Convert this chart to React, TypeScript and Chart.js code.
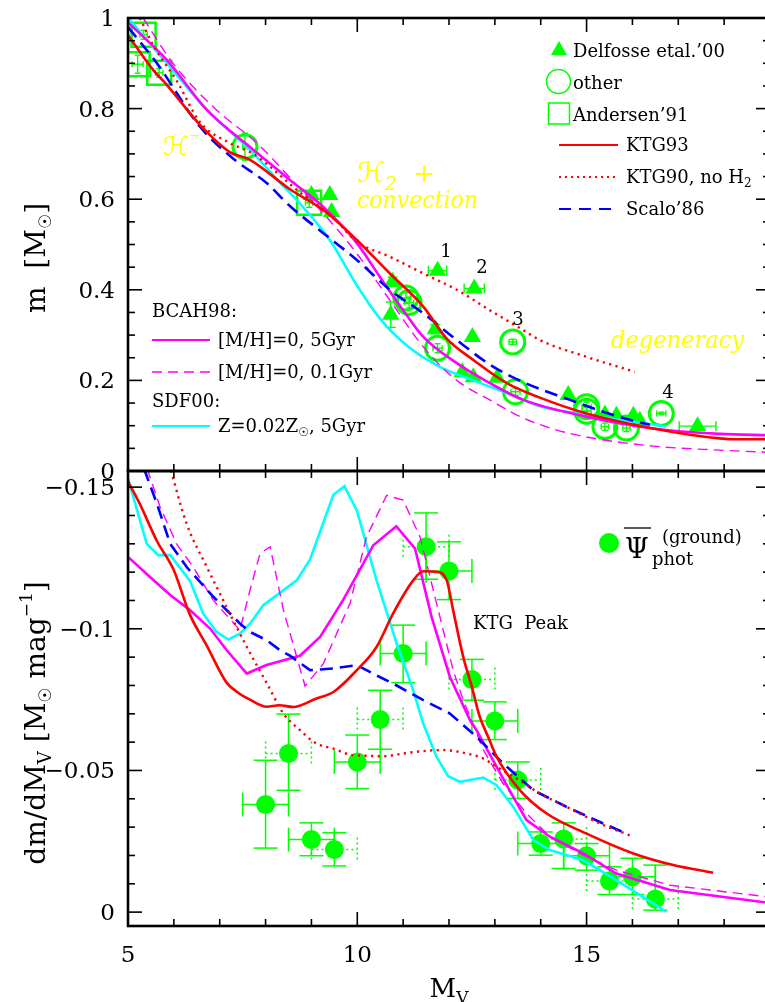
import { useEffect, useRef } from "react";
import { Chart, registerables } from "chart.js";

Chart.register(...registerables);

type Pt = [number, number];

const SERIF = '"DejaVu Serif", "DejaVu Sans", "Liberation Serif", serif';
const GREEN = "#00ff00";
const RED = "#ff0000";
const BLUE = "#0000ff";
const MAGENTA = "#ff00ff";
const CYAN = "#00ffff";
const YELLOW = "#ffff00";

// shared abscissa: absolute visual magnitude
const MV_RANGE: Pt = [5, 19];
const MV_TICKS = [5, 10, 15];
const MV_TICK_LABELS = ["5", "10", "15"];

// upper panel: stellar mass (solar units)
const MASS_RANGE: Pt = [0, 1];
const MASS_TICKS = [0, 0.2, 0.4, 0.6, 0.8, 1];
const MASS_TICK_LABELS = ["0", "0.2", "0.4", "0.6", "0.8", "1"];

// lower panel: dm/dMv (negative values run upwards)
const SLOPE_RANGE: Pt = [-0.1557, 0.0049];
const SLOPE_TICKS = [-0.15, -0.1, -0.05, 0];
const SLOPE_TICK_LABELS = ["\u22120.15", "\u22120.1", "\u22120.05", "0"];

// ---------- mass-luminosity relations ----------
const KTG93_MASS: Pt[] = [
  [5.0, 0.962], [5.55, 0.885], [5.85, 0.852], [6.57, 0.764], [7.22, 0.704], [7.66, 0.687],
  [8.53, 0.622], [9.26, 0.576], [9.99, 0.51], [10.71, 0.436], [11.44, 0.363], [11.95, 0.292],
  [12.53, 0.245], [13.26, 0.194], [13.98, 0.162], [15.0, 0.127], [16.45, 0.094], [17.9, 0.072],
  [18.3, 0.07], [19.0, 0.07],
];
const KTG90_MASS: Pt[] = [
  [5.26, 1.0], [5.55, 0.94], [6.07, 0.86], [6.57, 0.77], [7.2, 0.725], [7.73, 0.7], [8.75, 0.615],
  [9.47, 0.56], [9.99, 0.506], [10.71, 0.473], [11.44, 0.436], [12.17, 0.4], [12.89, 0.355],
  [13.62, 0.311], [13.98, 0.289], [15.0, 0.252], [16.05, 0.219],
];
const SCALO86_MASS: Pt[] = [
  [5.0, 0.98], [5.63, 0.9], [6.57, 0.76], [7.29, 0.69], [8.03, 0.635], [8.53, 0.585], [9.26, 0.525],
  [9.99, 0.466], [10.71, 0.4], [11.44, 0.348], [12.17, 0.289], [12.89, 0.235], [13.62, 0.196],
  [14.64, 0.157], [15.36, 0.131], [16.09, 0.109], [16.38, 0.102],
];
const BCAH98_5GYR_MASS: Pt[] = [
  [5.0, 0.99], [5.85, 0.907], [6.72, 0.797], [7.66, 0.715], [8.6, 0.637], [9.26, 0.583],
  [9.99, 0.503], [10.49, 0.429], [11.0, 0.355], [11.44, 0.296], [12.17, 0.238], [12.89, 0.194],
  [13.62, 0.157], [15.0, 0.12], [16.45, 0.094], [17.9, 0.082], [19.0, 0.079],
];
const BCAH98_01GYR_MASS: Pt[] = [
  [5.33, 1.0], [5.98, 0.9], [6.93, 0.797], [7.81, 0.724], [8.6, 0.64], [9.26, 0.569], [9.99, 0.48],
  [10.71, 0.377], [11.44, 0.274], [12.17, 0.2], [12.89, 0.157], [13.55, 0.12], [14.3, 0.092],
  [15.0, 0.075], [16.45, 0.055], [17.9, 0.046], [19.0, 0.041],
];
const SDF00_MASS: Pt[] = [
  [5.0, 1.0], [5.85, 0.9], [6.72, 0.797], [7.66, 0.709], [8.24, 0.645], [8.75, 0.59], [9.4, 0.51],
  [9.99, 0.41], [10.49, 0.337], [11.08, 0.277], [11.8, 0.23], [12.53, 0.2], [13.26, 0.172],
  [13.98, 0.143], [15.0, 0.124], [15.73, 0.113], [16.74, 0.098],
];

// binary-star masses
const DELFOSSE_MV = [9.0, 9.4, 9.44, 10.77, 10.73, 11.75, 12.55, 11.7, 12.51, 12.29, 12.53, 13.05, 14.6, 15.4, 15.65, 16.02, 16.16, 17.42];
const DELFOSSE_MASS = [0.609, 0.609, 0.572, 0.418, 0.345, 0.442, 0.403, 0.313, 0.296, 0.218, 0.207, 0.206, 0.168, 0.125, 0.122, 0.122, 0.111, 0.099];
const DELFOSSE_MV_ERR = [0, 0, 0, 0, 0, 0.2, 0.22, 0, 0, 0, 0, 0, 0, 0, 0, 0, 0, 0.4];
const DELFOSSE_MASS_ERR = [0, 0, 0, 0.01, 0.028, 0, 0, 0.01, 0, 0, 0, 0, 0, 0, 0, 0, 0, 0];

const OTHER_MV = [7.55, 11.06, 11.13, 11.75, 13.39, 13.45, 15.0, 15.0, 15.4, 15.87, 16.63];
const OTHER_MASS = [0.716, 0.382, 0.372, 0.271, 0.285, 0.175, 0.142, 0.132, 0.098, 0.095, 0.127];
const OTHER_MV_ERR = [0.05, 0.1, 0.1, 0.1, 0.08, 0.1, 0.1, 0.1, 0.08, 0.08, 0.1];
const OTHER_MASS_ERR = [0.03, 0.012, 0.012, 0.01, 0.006, 0.008, 0.01, 0.008, 0.008, 0.008, 0.003];

const ANDERSEN_MV = [5.34, 5.21, 5.68, 8.95];
const ANDERSEN_MASS = [0.963, 0.898, 0.879, 0.592];
const ANDERSEN_MV_ERR = [0.08, 0.12, 0.08, 0.08];
const ANDERSEN_MASS_ERR = [0.01, 0.02, 0.01, 0.01];

// ---------- derivatives dm/dMv ----------
const KTG93_SLOPE: Pt[] = [
  [5.0, -0.152], [5.26, -0.144], [5.63, -0.131], [5.99, -0.121], [6.35, -0.105], [6.72, -0.094],
  [7.15, -0.081], [7.44, -0.077], [7.66, -0.075], [8.02, -0.0725], [8.3, -0.073], [8.6, -0.0724],
  [9.11, -0.0754], [9.48, -0.0777], [9.99, -0.0854], [10.42, -0.0936], [10.78, -0.1054],
  [11.22, -0.1171], [11.44, -0.1203], [11.73, -0.1201], [11.95, -0.1171], [12.09, -0.1066],
  [12.31, -0.0901], [12.49, -0.08], [12.67, -0.069], [12.85, -0.062], [13.04, -0.0548],
  [13.55, -0.043], [14.13, -0.0348], [15.0, -0.0277], [16.02, -0.0207], [16.89, -0.0166], [17.76, -0.0139],
];
const KTG90_SLOPE: Pt[] = [
  [5.9, -0.158], [6.28, -0.137], [6.72, -0.1218], [7.15, -0.1077], [7.59, -0.0936], [8.02, -0.081],
  [8.39, -0.0701], [8.75, -0.0642], [9.11, -0.0595], [9.48, -0.0577], [9.84, -0.0556], [10.2, -0.0552],
  [10.57, -0.055], [10.93, -0.0558], [11.29, -0.0566], [11.87, -0.0572], [12.38, -0.056],
  [12.75, -0.0542], [13.04, -0.0513], [13.47, -0.0472], [13.98, -0.0419], [14.56, -0.0372],
  [15.29, -0.0313], [16.02, -0.0266],
];
const SCALO86_SLOPE: Pt[] = [
  [5.35, -0.1565], [5.63, -0.1442], [5.92, -0.13], [6.28, -0.1218], [6.86, -0.1113], [7.44, -0.1019],
  [7.66, -0.0989], [8.02, -0.096], [8.31, -0.0925], [8.53, -0.0905], [8.97, -0.0854], [9.48, -0.086],
  [9.99, -0.0872], [10.49, -0.083], [10.78, -0.0807], [11.44, -0.0748], [12.02, -0.0701],
  [12.6, -0.0619], [13.18, -0.0525], [13.84, -0.043], [14.56, -0.0372], [15.29, -0.0318], [15.87, -0.0277],
];
const BCAH98_5GYR_SLOPE: Pt[] = [
  [5.0, -0.1254], [5.48, -0.1183], [5.92, -0.1119], [6.35, -0.1066], [6.79, -0.1001], [7.15, -0.0925],
  [7.59, -0.0842], [8.02, -0.0872], [8.75, -0.0905], [9.19, -0.0971], [9.69, -0.1101], [10.35, -0.1295],
  [10.85, -0.1362], [11.26, -0.1283], [11.62, -0.1042], [12.02, -0.083], [12.46, -0.0677],
  [12.6, -0.0642], [13.04, -0.0513], [13.4, -0.0407], [13.69, -0.0325], [14.2, -0.0266],
  [14.93, -0.0207], [15.65, -0.0136], [16.82, -0.0078], [19.0, -0.0032],
];
const BCAH98_01GYR_SLOPE: Pt[] = [
  [5.42, -0.1565], [5.7, -0.143], [6.06, -0.13], [6.42, -0.1218], [6.86, -0.1101], [7.44, -0.0995],
  [7.66, -0.1136], [7.88, -0.1266], [8.1, -0.1289], [8.39, -0.1066], [8.86, -0.0798], [9.26, -0.0877],
  [9.84, -0.1089], [10.2, -0.1324], [10.64, -0.1471], [11.0, -0.1454], [11.37, -0.1324],
  [11.73, -0.1089], [12.09, -0.0854], [12.31, -0.0748], [12.46, -0.069], [12.75, -0.0572],
  [13.18, -0.0454], [13.69, -0.0348], [14.2, -0.0266], [14.93, -0.0201], [15.65, -0.0148],
  [16.82, -0.0095], [19.0, -0.0053],
];
const SDF00_SLOPE: Pt[] = [
  [5.0, -0.153], [5.41, -0.13], [5.66, -0.126], [5.92, -0.126], [6.35, -0.117], [6.64, -0.1054],
  [6.93, -0.0989], [7.19, -0.0962], [7.44, -0.0983], [7.66, -0.1018], [7.95, -0.1083], [8.68, -0.1171],
  [8.97, -0.1245], [9.48, -0.1473], [9.72, -0.1503], [9.99, -0.1418], [10.42, -0.1171],
  [10.86, -0.0948], [11.22, -0.0783], [11.44, -0.0665], [11.73, -0.0548], [11.98, -0.048],
  [12.24, -0.046], [12.75, -0.0475], [13.04, -0.0448], [13.4, -0.0372], [13.84, -0.0254],
  [14.2, -0.0219], [14.93, -0.0183], [15.65, -0.0113], [16.74, -0.0001],
];

// photometric luminosity-function derivative with 1-sigma ranges
const PSI_MV = [8.0, 8.5, 9.0, 9.5, 10.0, 10.5, 11.0, 11.5, 12.0, 12.5, 13.0, 13.5, 14.0, 14.5, 15.0, 15.5, 16.0, 16.5];
const PSI_SLOPE = [-0.038, -0.056, -0.0256, -0.0221, -0.053, -0.068, -0.0913, -0.129, -0.1204, -0.0821, -0.0675, -0.0466, -0.0242, -0.0258, -0.0199, -0.011, -0.0125, -0.0046];
const PSI_UPPER = [-0.0536, -0.0699, -0.0315, -0.028, -0.0625, -0.0783, -0.1013, -0.1409, -0.1307, -0.0892, -0.0742, -0.053, -0.0283, -0.0315, -0.0242, -0.016, -0.019, -0.0166];
const PSI_LOWER = [-0.0226, -0.043, -0.0199, -0.0163, -0.0436, -0.0575, -0.081, -0.1175, -0.1103, -0.0748, -0.0609, -0.0401, -0.0201, -0.0154, -0.0148, -0.0062, -0.0062, -0.0007];
const PSI_BIN_HALF = 0.5;

// ---------- drawing helpers ----------
type Run = { t: string; size: number; dy?: number; style?: string };

function seg(ctx: CanvasRenderingContext2D, x1: number, y1: number, x2: number, y2: number) {
  ctx.beginPath();
  ctx.moveTo(x1, y1);
  ctx.lineTo(x2, y2);
  ctx.stroke();
}

function runFont(r: Run) {
  return `${r.style ? r.style + " " : ""}${r.size}px ${SERIF}`;
}

function drawRuns(ctx: CanvasRenderingContext2D, runs: Run[], x: number, y: number, align = "left", angle = 0, color = "#000") {
  ctx.save();
  ctx.translate(x, y);
  if (angle) ctx.rotate(angle);
  ctx.fillStyle = color;
  ctx.textAlign = "left";
  ctx.textBaseline = "alphabetic";
  const widths = runs.map((r) => {
    ctx.font = runFont(r);
    return ctx.measureText(r.t).width;
  });
  const total = widths.reduce((a, b) => a + b, 0);
  let cx = align === "center" ? -total / 2 : align === "right" ? -total : 0;
  runs.forEach((r, i) => {
    ctx.font = runFont(r);
    ctx.fillText(r.t, cx, r.dy ?? 0);
    cx += widths[i];
  });
  ctx.restore();
}

function drawScript(ctx: CanvasRenderingContext2D, text: string, x: number, baseline: number, size: number, width: number) {
  ctx.save();
  ctx.font = `italic ${size}px ${SERIF}`;
  ctx.fillStyle = YELLOW;
  ctx.textAlign = "left";
  ctx.textBaseline = "alphabetic";
  const w = ctx.measureText(text).width;
  ctx.translate(x, baseline);
  ctx.scale(width / w, 1);
  ctx.fillText(text, 0, 0);
  ctx.restore();
}

function drawFrame(chart: any, yMajor: number[], yMinor: number[]) {
  const { ctx, chartArea: a } = chart;
  const xs = chart.scales.x;
  const ys = chart.scales.y;
  ctx.save();
  ctx.strokeStyle = "#000";
  ctx.lineWidth = 1.6;
  const xTicks: Pt[] = [];
  for (let v = MV_RANGE[0]; v < MV_RANGE[1]; v += 1) xTicks.push([v, MV_TICKS.includes(v) ? 14 : 7]);
  for (const [v, len] of xTicks) {
    const px = xs.getPixelForValue(v);
    seg(ctx, px, a.top, px, a.top + len);
    seg(ctx, px, a.bottom, px, a.bottom - len);
  }
  const yTicks: Pt[] = [...yMajor.map((v): Pt => [v, 14]), ...yMinor.map((v): Pt => [v, 7])];
  for (const [v, len] of yTicks) {
    const py = ys.getPixelForValue(v);
    seg(ctx, a.left, py, a.left + len, py);
    seg(ctx, a.right, py, a.right - len, py);
  }
  ctx.lineWidth = 2.6;
  ctx.strokeRect(a.left, a.top, a.right - a.left, a.bottom - a.top);
  ctx.restore();
}

function drawYLabels(chart: any, values: number[], labels: string[]) {
  const { ctx, chartArea: a } = chart;
  const ys = chart.scales.y;
  values.forEach((v, i) => {
    drawRuns(ctx, [{ t: labels[i], size: 23 }], a.left - 13, ys.getPixelForValue(v) + 8, "right");
  });
}

function errorCross(ctx: CanvasRenderingContext2D, xs: any, ys: any, mv: number, val: number, dmv: number, dval: number, cap: number) {
  const px = xs.getPixelForValue(mv);
  const py = ys.getPixelForValue(val);
  if (dmv) {
    const l = xs.getPixelForValue(mv - dmv);
    const r = xs.getPixelForValue(mv + dmv);
    seg(ctx, l, py, r, py);
    seg(ctx, l, py - cap, l, py + cap);
    seg(ctx, r, py - cap, r, py + cap);
  }
  if (dval) {
    const t = ys.getPixelForValue(val + dval);
    const b = ys.getPixelForValue(val - dval);
    seg(ctx, px, t, px, b);
    seg(ctx, px - cap, t, px + cap, t);
    seg(ctx, px - cap, b, px + cap, b);
  }
}

const toXY = (arr: Pt[]) => arr.map(([x, y]) => ({ x, y }));
const zipXY = (xs: number[], ys: number[]) => xs.map((x, i) => ({ x, y: ys[i] }));

function curve(label: string, arr: Pt[], color: string, width: number, dash: number[], smooth: boolean) {
  return {
    label,
    data: toXY(arr),
    showLine: true,
    borderColor: color,
    backgroundColor: color,
    borderWidth: width,
    borderDash: dash,
    pointRadius: 0,
    pointHoverRadius: 0,
    cubicInterpolationMode: smooth ? "monotone" : "default",
    tension: 0,
    order: 1,
  };
}

function baseOptions(yRange: Pt, reverse: boolean, padding: any) {
  return {
    responsive: false,
    animation: false,
    devicePixelRatio: 1,
    events: [],
    layout: { padding, autoPadding: false },
    plugins: { legend: { display: false }, tooltip: { enabled: false }, title: { display: false } },
    scales: {
      x: { type: "linear", min: MV_RANGE[0], max: MV_RANGE[1], display: false },
      y: { type: "linear", min: yRange[0], max: yRange[1], reverse, display: false },
    },
  };
}

// ---------- upper panel ----------
const massDecor = {
  id: "massDecor",
  beforeDatasetsDraw(chart: any) {
    const { ctx } = chart;
    const xs = chart.scales.x;
    const ys = chart.scales.y;
    ctx.save();
    ctx.strokeStyle = GREEN;
    ctx.lineWidth = 1.4;
    DELFOSSE_MV.forEach((mv, i) => errorCross(ctx, xs, ys, mv, DELFOSSE_MASS[i], DELFOSSE_MV_ERR[i], DELFOSSE_MASS_ERR[i], 5));
    OTHER_MV.forEach((mv, i) => errorCross(ctx, xs, ys, mv, OTHER_MASS[i], OTHER_MV_ERR[i], OTHER_MASS_ERR[i], 3));
    ANDERSEN_MV.forEach((mv, i) => errorCross(ctx, xs, ys, mv, ANDERSEN_MASS[i], ANDERSEN_MV_ERR[i], ANDERSEN_MASS_ERR[i], 3));
    ctx.restore();
  },
  afterDraw(chart: any) {
    const { ctx } = chart;
    const minor: number[] = [];
    for (let i = 1; i < 20; i++) if (i % 4 !== 0) minor.push(i * 0.05);
    drawFrame(chart, MASS_TICKS, minor);
    drawYLabels(chart, MASS_TICKS, MASS_TICK_LABELS);

    // axis title
    drawRuns(ctx, [{ t: "m  [M", size: 28 }, { t: "\u2609", size: 17, dy: 6 }, { t: "]", size: 28 }], 45, 258, "center", -Math.PI / 2);

    // point labels
    const nums: [string, number, number][] = [["1", 446, 257], ["2", 482, 273], ["3", 518, 325], ["4", 668, 398]];
    nums.forEach(([t, x, y]) => drawRuns(ctx, [{ t, size: 18 }], x, y, "center"));

    // physics annotations
    drawRuns(ctx, [{ t: "\u210B", size: 26, style: "italic" }, { t: "\u2212", size: 14, dy: -15 }], 163, 155, "left", 0, YELLOW);
    drawRuns(ctx, [{ t: "\u210B", size: 28, style: "italic" }, { t: "2", size: 19, dy: 8, style: "italic" }, { t: "  +", size: 26 }], 357, 182, "left", 0, YELLOW);
    drawScript(ctx, "convection", 357, 208, 24, 121);
    drawScript(ctx, "degeneracy", 611, 348, 25, 133);

    // legend: observations
    ctx.save();
    ctx.fillStyle = GREEN;
    ctx.strokeStyle = GREEN;
    ctx.beginPath();
    ctx.moveTo(559, 41);
    ctx.lineTo(567, 55);
    ctx.lineTo(551, 55);
    ctx.closePath();
    ctx.fill();
    ctx.lineWidth = 1.5;
    ctx.beginPath();
    ctx.arc(558.5, 81.5, 12, 0, Math.PI * 2);
    ctx.stroke();
    ctx.strokeRect(548.5, 103, 21, 21);
    ctx.restore();
    drawRuns(ctx, [{ t: "Delfosse etal.\u201900", size: 18 }], 573, 57);
    drawRuns(ctx, [{ t: "other", size: 18 }], 573, 89);
    drawRuns(ctx, [{ t: "Andersen\u201991", size: 18 }], 573, 121);

    // legend: models
    const lineKey = (y: number, color: string, width: number, dash: number[], x0: number, x1: number) => {
      ctx.save();
      ctx.strokeStyle = color;
      ctx.lineWidth = width;
      ctx.setLineDash(dash);
      seg(ctx, x0, y, x1, y);
      ctx.restore();
    };
    lineKey(145, RED, 2, [], 559, 618);
    lineKey(177, RED, 2, [2, 4], 559, 618);
    lineKey(209, BLUE, 2, [12, 8], 559, 618);
    drawRuns(ctx, [{ t: "KTG93", size: 18 }], 626, 151);
    drawRuns(ctx, [{ t: "KTG90, no H", size: 18 }, { t: "2", size: 12, dy: 4 }], 626, 183);
    drawRuns(ctx, [{ t: "Scalo\u201986", size: 18 }], 626, 215);

    drawRuns(ctx, [{ t: "BCAH98:", size: 18 }], 152, 317);
    lineKey(340, MAGENTA, 2, [], 152, 210);
    drawRuns(ctx, [{ t: "[M/H]=0, 5Gyr", size: 18 }], 218, 346);
    lineKey(372, MAGENTA, 1.5, [10, 6], 152, 210);
    drawRuns(ctx, [{ t: "[M/H]=0, 0.1Gyr", size: 18 }], 218, 378);
    drawRuns(ctx, [{ t: "SDF00:", size: 18 }], 152, 407);
    lineKey(426, CYAN, 2, [], 152, 210);
    drawRuns(ctx, [{ t: "Z=0.02Z", size: 18 }, { t: "\u2609", size: 12, dy: 4 }, { t: ", 5Gyr", size: 18 }], 218, 432);
  },
};

function massConfig() {
  return {
    type: "scatter",
    data: {
      datasets: [
        curve("KTG93", KTG93_MASS, RED, 2.6, [], true),
        curve("KTG90, no H2", KTG90_MASS, RED, 2.4, [2.2, 4.4], true),
        curve("Scalo'86", SCALO86_MASS, BLUE, 2.6, [13, 7], true),
        curve("[M/H]=0, 5Gyr", BCAH98_5GYR_MASS, MAGENTA, 2.6, [], true),
        curve("[M/H]=0, 0.1Gyr", BCAH98_01GYR_MASS, MAGENTA, 1.4, [10, 6], true),
        curve("Z=0.02Zsun, 5Gyr", SDF00_MASS, CYAN, 2.6, [], true),
        {
          label: "Delfosse etal.'00",
          data: zipXY(DELFOSSE_MV, DELFOSSE_MASS),
          pointStyle: "triangle",
          pointRadius: 10,
          backgroundColor: GREEN,
          borderColor: GREEN,
          borderWidth: 0,
          order: 2,
        },
        {
          label: "other",
          data: zipXY(OTHER_MV, OTHER_MASS),
          pointStyle: "circle",
          pointRadius: 12,
          backgroundColor: "rgba(0,0,0,0)",
          borderColor: GREEN,
          borderWidth: 3,
          order: 2,
        },
        {
          label: "Andersen'91",
          data: zipXY(ANDERSEN_MV, ANDERSEN_MASS),
          pointStyle: "rect",
          pointRadius: 17,
          backgroundColor: "rgba(0,0,0,0)",
          borderColor: GREEN,
          borderWidth: 2.5,
          order: 2,
        },
      ],
    },
    options: baseOptions(MASS_RANGE, false, { left: 128, top: 18, right: 10, bottom: 531 }),
    plugins: [massDecor],
  };
}

// ---------- lower panel ----------
const slopeDecor = {
  id: "slopeDecor",
  beforeDatasetsDraw(chart: any) {
    const { ctx } = chart;
    const xs = chart.scales.x;
    const ys = chart.scales.y;
    ctx.save();
    ctx.strokeStyle = GREEN;
    ctx.lineWidth = 1.5;
    PSI_MV.forEach((mv, i) => {
      const px = xs.getPixelForValue(mv);
      const py = ys.getPixelForValue(PSI_SLOPE[i]);
      const t = ys.getPixelForValue(PSI_UPPER[i]);
      const b = ys.getPixelForValue(PSI_LOWER[i]);
      ctx.setLineDash([]);
      seg(ctx, px, t, px, b);
      seg(ctx, px - 12, t, px + 12, t);
      seg(ctx, px - 12, b, px + 12, b);
      const halfBin = Math.round(mv * 2) % 2 === 1;
      ctx.setLineDash(halfBin ? [2, 3] : []);
      const l = xs.getPixelForValue(mv - PSI_BIN_HALF);
      const r = xs.getPixelForValue(mv + PSI_BIN_HALF);
      seg(ctx, l, py, r, py);
      seg(ctx, l, py - 12, l, py + 12);
      seg(ctx, r, py - 12, r, py + 12);
    });
    ctx.restore();
  },
  afterDraw(chart: any) {
    const { ctx, chartArea: a } = chart;
    const xs = chart.scales.x;
    const minor: number[] = [];
    for (let i = 1; i < 15; i++) if (i % 5 !== 0) minor.push(-i * 0.01);
    drawFrame(chart, SLOPE_TICKS, minor);
    drawYLabels(chart, SLOPE_TICKS, SLOPE_TICK_LABELS);
    MV_TICKS.forEach((v, i) => drawRuns(ctx, [{ t: MV_TICK_LABELS[i], size: 23 }], xs.getPixelForValue(v), a.bottom + 36, "center"));

    drawRuns(ctx, [{ t: "M", size: 26 }, { t: "V", size: 17, dy: 6 }], 449, 997, "center");
    drawRuns(
      ctx,
      [
        { t: "dm/dM", size: 28 },
        { t: "V", size: 18, dy: 6 },
        { t: " [M", size: 28 },
        { t: "\u2609", size: 17, dy: 6 },
        { t: " mag", size: 28 },
        { t: "\u22121", size: 17, dy: -13 },
        { t: "]", size: 28 },
      ],
      45,
      723,
      "center",
      -Math.PI / 2
    );

    drawRuns(ctx, [{ t: "KTG  Peak", size: 18 }], 473, 629);

    // legend for the photometric points
    ctx.save();
    ctx.fillStyle = GREEN;
    ctx.beginPath();
    ctx.arc(609, 543, 10, 0, Math.PI * 2);
    ctx.fill();
    ctx.strokeStyle = "#000";
    ctx.lineWidth = 1.3;
    seg(ctx, 624, 528, 651, 528);
    ctx.restore();
    drawRuns(ctx, [{ t: "\u03A8", size: 27 }], 625, 558);
    drawRuns(ctx, [{ t: "(ground)", size: 18 }], 662, 543);
    drawRuns(ctx, [{ t: "phot", size: 18 }], 652, 565);
  },
};

function slopeConfig() {
  return {
    type: "scatter",
    data: {
      datasets: [
        curve("KTG93", KTG93_SLOPE, RED, 2.6, [], true),
        curve("KTG90, no H2", KTG90_SLOPE, RED, 2.4, [2.2, 4.4], true),
        curve("Scalo'86", SCALO86_SLOPE, BLUE, 2.6, [13, 7], false),
        curve("[M/H]=0, 5Gyr", BCAH98_5GYR_SLOPE, MAGENTA, 2.6, [], false),
        curve("[M/H]=0, 0.1Gyr", BCAH98_01GYR_SLOPE, MAGENTA, 1.4, [10, 6], false),
        curve("Z=0.02Zsun, 5Gyr", SDF00_SLOPE, CYAN, 2.6, [], false),
        {
          label: "Psi phot (ground)",
          data: zipXY(PSI_MV, PSI_SLOPE),
          pointStyle: "circle",
          pointRadius: 9.5,
          backgroundColor: GREEN,
          borderColor: GREEN,
          borderWidth: 0,
          order: 2,
        },
      ],
    },
    options: baseOptions(SLOPE_RANGE, true, { left: 128, top: 471, right: 10, bottom: 76 }),
    plugins: [slopeDecor],
  };
}

export default function App() {
  const massRef = useRef<HTMLCanvasElement>(null);
  const slopeRef = useRef<HTMLCanvasElement>(null);

  useEffect(() => {
    const slope = new Chart(slopeRef.current as HTMLCanvasElement, slopeConfig() as any);
    const mass = new Chart(massRef.current as HTMLCanvasElement, massConfig() as any);
    return () => {
      mass.destroy();
      slope.destroy();
    };
  }, []);

  const canvasStyle: any = { position: "absolute", left: 0, top: 0, width: 780, height: 1002 };
  return (
    <div style={{ position: "fixed", left: 0, top: 0, width: 765, height: 1002, overflow: "hidden", background: "#fff" }}>
      <canvas ref={slopeRef} width={780} height={1002} style={canvasStyle} />
      <canvas ref={massRef} width={780} height={1002} style={canvasStyle} />
    </div>
  );
}
